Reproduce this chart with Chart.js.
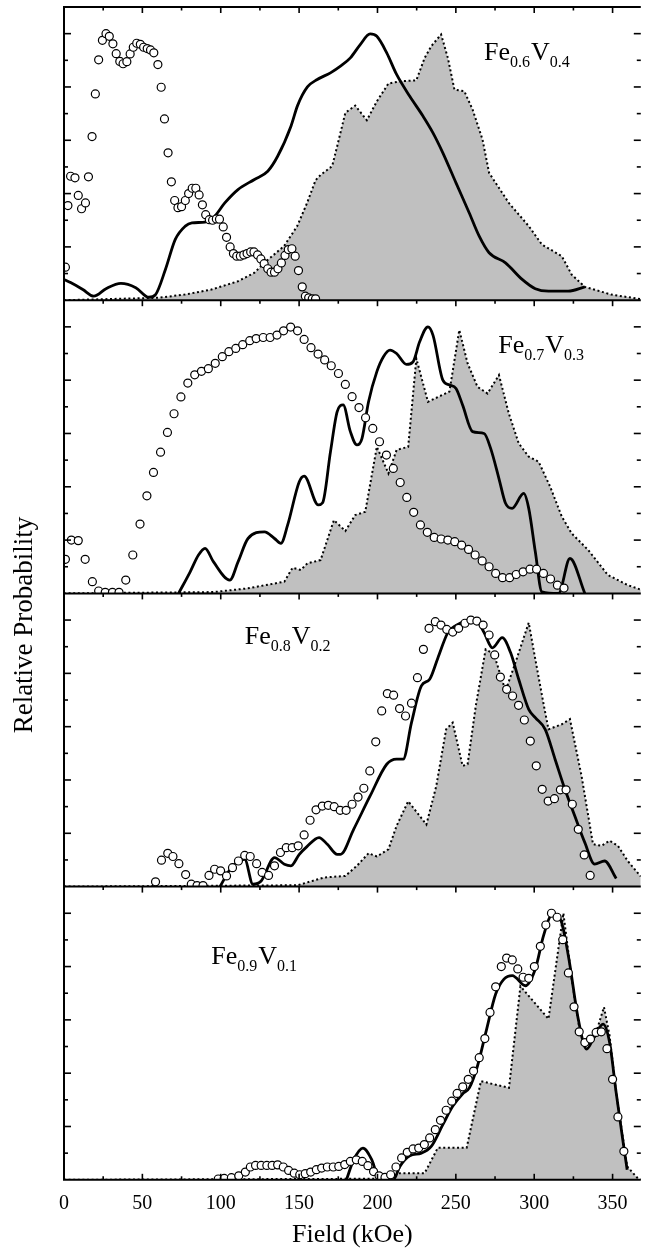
<!DOCTYPE html>
<html>
<head>
<meta charset="utf-8">
<script src="https://cdn.jsdelivr.net/npm/chart.js@4"></script>
<style>
  html, body { margin: 0; padding: 0; background: #fff; overflow: hidden; }
  #wrap { width: 646px; height: 1251px; position: relative; }
</style>
</head>
<body>
<div id="wrap"><canvas id="chart"></canvas></div>
<script>
// x axis ticks (kOe) and y tick marks (relative probability)
const xTickLabels = [0, 50, 100, 150, 200, 250, 300, 350];
const xMinorTicks = [25, 75, 125, 175, 225, 275, 325];
const yTickMarks = [0.1, 0.2, 0.3, 0.4, 0.5, 0.6, 0.7, 0.8, 0.9, 1.0];

// Fe0.6V0.4
const fe60Circles = [[0.9,0.124],[2.5,0.355],[4.2,0.465],[7,0.459],[9.1,0.393],[11.2,0.343],[13.7,0.365],[15.6,0.463],[17.9,0.614],[20,0.774],[22.1,0.902],[24.5,0.975],[26.8,1.0],[28.9,0.99],[31.2,0.962],[33.3,0.925],[35.6,0.896],[37.7,0.887],[40.1,0.895],[42.2,0.924],[44.2,0.949],[46.4,0.964],[48.7,0.96],[50.8,0.949],[53.1,0.944],[55.2,0.939],[57.3,0.928],[59.9,0.884],[62,0.799],[64.1,0.68],[66.4,0.553],[68.5,0.444],[70.6,0.374],[72.7,0.347],[75,0.351],[77.4,0.374],[79.5,0.4],[81.8,0.42],[84.1,0.42],[86.2,0.395],[88.3,0.358],[90.4,0.321],[92.7,0.302],[94.8,0.3],[97.2,0.305],[99.2,0.304],[101.6,0.275],[103.7,0.236],[106,0.2],[108.1,0.175],[110.2,0.165],[112.5,0.165],[114.7,0.17],[116.8,0.175],[119.1,0.181],[121.2,0.181],[123.5,0.17],[125.6,0.155],[127.7,0.137],[130,0.118],[132.1,0.105],[134.3,0.105],[136.5,0.118],[138.7,0.14],[141,0.168],[143.1,0.19],[145.4,0.193],[147.5,0.165],[149.6,0.111],[152,0.05],[154,0.015],[156.1,0.009],[158.4,0.005],[160.5,0.005]];
const fe60Line = [[0,0.078],[4.2,0.066],[12,0.04],[19,0.015],[26.8,0.043],[36.3,0.063],[45.8,0.047],[54.2,0.011],[58.4,0.021],[64.7,0.115],[71,0.228],[77.4,0.278],[81.6,0.29],[90,0.293],[95.2,0.309],[102.6,0.365],[111,0.415],[121.5,0.453],[130,0.484],[136.3,0.54],[144.8,0.653],[149,0.73],[155.3,0.8],[161.6,0.828],[170,0.853],[176.4,0.878],[182.7,0.909],[189,0.959],[195.3,0.999],[199.6,0.99],[205.9,0.928],[212.2,0.847],[220.6,0.765],[229.1,0.69],[235.4,0.628],[241.7,0.553],[250.1,0.44],[258.5,0.328],[264.9,0.24],[271.2,0.178],[281.7,0.14],[292.3,0.078],[300.7,0.043],[309.1,0.034],[321.7,0.034],[332.3,0.05]];
const fe60Area = [[0,0],[60,0.009],[77,0.021],[94,0.04],[111,0.071],[121.5,0.103],[127.8,0.14],[140.4,0.203],[148.8,0.278],[155.1,0.365],[160.5,0.45],[163.7,0.47],[171.1,0.503],[174.3,0.578],[179.5,0.703],[185.8,0.73],[193.2,0.675],[199.6,0.746],[207,0.813],[214.3,0.821],[224.8,0.825],[230.1,0.909],[234.3,0.953],[240.6,0.997],[244.9,0.909],[249.1,0.79],[255.4,0.784],[260.7,0.715],[267,0.603],[271.2,0.478],[275.4,0.44],[283.8,0.365],[296.5,0.278],[304.9,0.209],[317.6,0.165],[323.9,0.096],[332.3,0.05],[349.2,0.021],[368,0.004]];

// Fe0.7V0.3
const fe70Circles = [[0.9,0.128],[4.7,0.2],[9.1,0.198],[13.5,0.128],[18.1,0.044],[22.1,0.009],[26.3,0.004],[30.9,0.004],[35.1,0.004],[39.4,0.05],[43.9,0.144],[48.5,0.26],[52.9,0.366],[57.1,0.454],[61.6,0.53],[66,0.604],[70.2,0.674],[74.6,0.737],[79,0.789],[83.4,0.82],[87.7,0.833],[92.1,0.843],[96.5,0.863],[101,0.888],[105.2,0.907],[109.6,0.919],[114,0.933],[118.5,0.948],[122.6,0.956],[127.1,0.96],[131.5,0.96],[135.9,0.969],[140.1,0.985],[144.6,0.999],[149,0.985],[153.2,0.953],[157.6,0.922],[162.1,0.898],[166.3,0.876],[170.5,0.854],[175.1,0.825],[179.5,0.784],[183.8,0.738],[188.2,0.697],[192.4,0.659],[197,0.619],[201.3,0.569],[205.7,0.519],[210.1,0.469],[214.5,0.416],[218.7,0.36],[223.1,0.304],[227.4,0.257],[231.8,0.229],[236.2,0.21],[240.6,0.204],[244.9,0.2],[249.3,0.194],[253.7,0.181],[258.1,0.165],[262.3,0.144],[266.8,0.122],[271.2,0.1],[275.4,0.075],[279.8,0.059],[284.3,0.059],[288.5,0.071],[292.9,0.081],[297.3,0.091],[301.5,0.091],[305.9,0.075],[310.4,0.054],[314.8,0.031],[319,0.02]];
const fe70Line = [[73.1,0],[80.5,0.081],[85.8,0.144],[90,0.169],[95.3,0.119],[105.8,0.05],[111.1,0.119],[117.4,0.206],[127.9,0.231],[134.3,0.206],[138.4,0.188],[142.7,0.257],[150.1,0.419],[153.2,0.44],[162.2,0.332],[165,0.34],[170,0.531],[174.3,0.682],[178.1,0.707],[182.7,0.607],[186.9,0.557],[190.1,0.581],[194.3,0.719],[199.6,0.832],[203.8,0.888],[208,0.913],[212.2,0.9],[218.5,0.859],[222.7,0.869],[226.9,0.944],[232.2,1.0],[235.4,0.969],[241.7,0.8],[245.9,0.782],[250.1,0.769],[254.3,0.707],[260.7,0.607],[268,0.6],[272.2,0.544],[277.5,0.431],[281.7,0.338],[285.9,0.319],[293.3,0.375],[296.5,0.319],[300.7,0.156],[304.9,0.006],[315.5,0],[322.8,0.131],[332.3,0]];
const fe70Area = [[0,0],[95.5,0.005],[117.4,0.019],[140.6,0.044],[145.8,0.096],[151.1,0.088],[155.3,0.113],[163.7,0.125],[172.2,0.275],[179.5,0.234],[185.8,0.294],[192.2,0.306],[199.6,0.55],[207,0.45],[212.2,0.538],[219.6,0.55],[224.8,0.881],[232.2,0.719],[245.9,0.757],[252.2,0.988],[257.5,0.863],[263.8,0.775],[270.2,0.75],[277.5,0.819],[283.8,0.675],[290.1,0.563],[296.5,0.513],[302.8,0.494],[310.2,0.4],[317.6,0.288],[323.9,0.225],[334.4,0.163],[347,0.069],[359.7,0.031],[368,0.014]];

// Fe0.8V0.2
const fe80Circles = [[58.4,0.018],[62.2,0.099],[66.2,0.125],[69.5,0.113],[73.3,0.086],[77.6,0.045],[81.2,0.009],[84.9,0.004],[88.7,0.004],[92.5,0.042],[96.1,0.065],[99.9,0.059],[103.7,0.04],[107.5,0.071],[111.3,0.096],[115.3,0.117],[118.8,0.113],[122.9,0.086],[126.4,0.053],[130.5,0.042],[134.3,0.078],[138.1,0.128],[141.8,0.146],[145.6,0.146],[149.4,0.153],[153.2,0.194],[157,0.249],[160.8,0.288],[164.8,0.302],[168.6,0.305],[172.4,0.3],[176.2,0.286],[180,0.286],[183.8,0.309],[187.6,0.336],[191.3,0.369],[195.1,0.434],[198.9,0.543],[202.7,0.659],[206.3,0.724],[210.3,0.718],[214.1,0.668],[217.9,0.64],[221.7,0.688],[225.5,0.784],[229.3,0.89],[232.9,0.969],[236.9,0.994],[240.5,0.981],[244.2,0.965],[248,0.955],[251.8,0.969],[255.8,0.988],[259.6,1.0],[263.4,0.996],[267.4,0.981],[271.2,0.944],[274.8,0.869],[278.4,0.786],[282.4,0.74],[286.2,0.715],[290,0.68],[293.7,0.625],[297.5,0.546],[301.3,0.453],[305.1,0.365],[308.9,0.321],[312.9,0.33],[316.7,0.363],[320.3,0.363],[324.3,0.309],[328.1,0.215],[331.9,0.119],[335.7,0.042]];
const fe80Line = [[99.5,0],[106.8,0.071],[115.3,0.102],[120.5,0.009],[125.8,0.021],[134.3,0.109],[140.6,0.084],[144.8,0.078],[150,0.12],[155,0.15],[162.7,0.184],[168,0.159],[174.3,0.121],[176.4,0.121],[184.8,0.215],[195.3,0.34],[205.9,0.459],[212.2,0.478],[216.4,0.478],[221.7,0.615],[228,0.753],[233.3,0.778],[238.6,0.859],[244.9,0.953],[250.1,0.98],[256.4,0.996],[262.7,1.0],[268,0.953],[273.3,0.896],[279.6,0.934],[284.9,0.878],[290.1,0.778],[296.5,0.665],[300.7,0.634],[307,0.59],[313.3,0.478],[319.6,0.365],[325.9,0.265],[332.3,0.165],[338.6,0.084],[344.9,0.096],[352.3,0.03]];
const fe80Area = [[0,0],[149,0.005],[165.9,0.034],[179.5,0.04],[186.9,0.078],[194.3,0.125],[199.6,0.113],[207,0.14],[212.2,0.228],[219.6,0.32],[231.2,0.233],[237.5,0.377],[243.8,0.59],[248,0.615],[254.3,0.453],[257.5,0.459],[262.7,0.677],[269,0.89],[274.3,0.872],[281.7,0.734],[288,0.84],[296.5,0.99],[300.7,0.853],[306,0.684],[309.1,0.59],[317.6,0.609],[322.8,0.628],[330.2,0.415],[337.5,0.159],[342.9,0.153],[348.1,0.172],[353.4,0.153],[359.7,0.096],[368,0.038]];

// Fe0.9V0.1
const fe90Circles = [[98.4,0.003],[102.2,0.005],[106.8,0.008],[111.5,0.015],[115.7,0.029],[118.9,0.048],[122.2,0.054],[125.8,0.054],[129.4,0.054],[132.8,0.054],[136.3,0.056],[139.9,0.048],[143.3,0.035],[146.9,0.025],[150.4,0.019],[153.9,0.023],[157.4,0.029],[161,0.038],[164.4,0.044],[168,0.048],[171.8,0.048],[175.3,0.05],[179.1,0.057],[182.7,0.069],[186.5,0.075],[190.3,0.069],[193.9,0.053],[197.5,0.031],[201,0.015],[204.8,0.009],[208.4,0.019],[211.8,0.048],[215.4,0.082],[219,0.103],[222.7,0.116],[226.3,0.119],[229.9,0.132],[233.3,0.157],[236.9,0.188],[240.2,0.223],[243.8,0.261],[247.4,0.295],[250.8,0.324],[254.4,0.349],[257.9,0.377],[261.3,0.408],[264.9,0.458],[268.5,0.53],[271.8,0.628],[275.4,0.724],[279,0.8],[282.4,0.832],[286,0.825],[289.5,0.791],[292.9,0.76],[296.5,0.756],[300.1,0.8],[303.9,0.876],[307.4,0.956],[311,1.0],[314.6,0.985],[318.2,0.901],[321.8,0.776],[325.4,0.649],[328.7,0.555],[332.3,0.515],[335.9,0.528],[339.5,0.553],[342.8,0.555],[346.4,0.492],[350,0.377],[353.4,0.236],[357.2,0.107]];
const fe90Line = [[180.2,0],[184.8,0.075],[190.7,0.119],[196.4,0.075],[201.3,0],[210.1,0],[214.3,0.05],[220.6,0.09],[228,0.1],[234.3,0.125],[241.7,0.207],[248,0.276],[254.4,0.323],[258.6,0.345],[263.8,0.427],[269.1,0.552],[275.4,0.697],[280.7,0.753],[286,0.766],[294.4,0.728],[300.7,0.791],[306,0.917],[311.2,0.992],[316.5,0.979],[321.8,0.84],[328.1,0.603],[333.4,0.49],[338.6,0.54],[343.9,0.584],[348.1,0.515],[352.3,0.326],[356.5,0.15],[359.3,0.038]];
const fe90Area = [[0,0],[201.7,0.004],[211.2,0.015],[214.3,0.025],[230.1,0.025],[238.5,0.12],[256.9,0.12],[266,0.37],[283.9,0.345],[291.2,0.726],[309.1,0.604],[318.6,1.0],[323.9,0.755],[329.2,0.553],[333.4,0.49],[338.6,0.535],[344.5,0.648],[348.1,0.54],[352.3,0.326],[359.3,0.05],[366,0.006],[368,0]];

// panel labels: subscripts and where the label sits (kOe, relative probability)
const panelNames = [['0.6', '0.4'], ['0.7', '0.3'], ['0.8', '0.2'], ['0.9', '0.1']];
const panelLabelAt = [[268, 0.9], [277, 0.903], [115.3, 0.911], [94, 0.81]];

const panels = [
  {id: 'yA', circles: fe60Circles, line: fe60Line, area: fe60Area},
  {id: 'yB', circles: fe70Circles, line: fe70Line, area: fe70Area},
  {id: 'yC', circles: fe80Circles, line: fe80Line, area: fe80Area},
  {id: 'yD', circles: fe90Circles, line: fe90Line, area: fe90Area}
];

const SERIF = "'Liberation Serif', 'Times New Roman', serif";
const pts = arr => arr.map(([x, y]) => ({x, y}));

const datasets = [];
panels.forEach(p => {
  datasets.push({
    data: pts(p.circles), yAxisID: p.id, showLine: false, order: 1, clip: 0,
    pointRadius: 4, pointBorderWidth: 1.2, pointBorderColor: '#000', pointBackgroundColor: '#fff'
  });
  datasets.push({
    data: pts(p.line), yAxisID: p.id, order: 2, clip: 0,
    borderColor: '#000', borderWidth: 2.8, pointRadius: 0, cubicInterpolationMode: 'monotone', fill: false
  });
  datasets.push({
    data: pts(p.area), yAxisID: p.id, order: 3, clip: 0,
    borderColor: '#000', borderWidth: 2, borderDash: [2, 2.6], pointRadius: 0, tension: 0,
    backgroundColor: '#c0c0c0', fill: 'origin'
  });
});

// y scales: bottom panel defined first so it is stacked lowest
const scales = {
  x: {
    type: 'linear', min: 0, max: 368, position: 'bottom',
    grid: {display: false, drawTicks: false}, border: {display: false},
    afterBuildTicks: s => { s.ticks = xTickLabels.map(v => ({value: v})); },
    afterFit: s => { s.paddingLeft = 0; s.paddingRight = 0; },
    ticks: {autoSkip: false, maxRotation: 0, padding: 12, color: '#000', font: {family: SERIF, size: 20}},
    title: {display: true, text: 'Field (kOe)', color: '#000', font: {family: SERIF, size: 26}, padding: {top: -8, bottom: 0}}
  }
};
[...panels].reverse().forEach(p => {
  scales[p.id] = {type: 'linear', min: 0, max: 1.1, position: 'left', stack: 'panels', stackWeight: 1, display: false};
});

const framePlugin = {
  id: 'frame',
  afterDatasetsDraw(chart) {
    const {ctx, chartArea: a} = chart;
    const x = chart.scales.x;
    const seg = (x1, y1, x2, y2) => { ctx.beginPath(); ctx.moveTo(x1, y1); ctx.lineTo(x2, y2); ctx.stroke(); };
    ctx.save();
    ctx.strokeStyle = '#000';
    ctx.fillStyle = '#000';
    ctx.lineWidth = 2;
    seg(a.left, a.top, a.left, a.bottom);
    seg(a.left - 1, a.bottom, a.right, a.bottom);
    panels.forEach((p, i) => {
      const s = chart.scales[p.id];
      ctx.lineWidth = 2;
      seg(a.left - 1, s.top, a.right, s.top);
      ctx.lineWidth = 1.6;
      xTickLabels.forEach(v => { const px = x.getPixelForValue(v); seg(px, s.top, px, s.top + 6); });
      xMinorTicks.forEach(v => { const px = x.getPixelForValue(v); seg(px, s.top, px, s.top + 3.5); });
      yTickMarks.forEach((v, k) => {
        const py = s.getPixelForValue(v);
        const len = k % 2 === 1 ? 7 : 4;
        seg(a.left, py, a.left + len, py);
        seg(a.right, py, a.right - len, py);
      });
      // panel label Fe_x V_y
      const [sub1, sub2] = panelNames[i];
      let lx = x.getPixelForValue(panelLabelAt[i][0]);
      const ly = s.getPixelForValue(panelLabelAt[i][1]);
      ctx.textBaseline = 'alphabetic';
      ctx.textAlign = 'left';
      const big = `26px ${SERIF}`, small = `16px ${SERIF}`;
      [['Fe', big, 0], [sub1, small, 7], ['V', big, 0], [sub2, small, 7]].forEach(([t, f, dy]) => {
        ctx.font = f;
        ctx.fillText(t, lx, ly + dy);
        lx += ctx.measureText(t).width + (f === small ? 1 : 0);
      });
    });
    ctx.lineWidth = 1.6;
    xTickLabels.forEach(v => { const px = x.getPixelForValue(v); seg(px, a.bottom, px, a.bottom - 6); });
    xMinorTicks.forEach(v => { const px = x.getPixelForValue(v); seg(px, a.bottom, px, a.bottom - 3.5); });
    // y axis title
    ctx.translate(32, 625);
    ctx.rotate(-Math.PI / 2);
    ctx.textAlign = 'center';
    ctx.textBaseline = 'alphabetic';
    ctx.font = `27px ${SERIF}`;
    ctx.fillText('Relative Probability', 0, 0);
    ctx.restore();
  }
};

new Chart(document.getElementById('chart'), {
  type: 'line',
  data: {datasets},
  options: {
    responsive: true,
    maintainAspectRatio: false,
    animation: false,
    layout: {padding: {left: 64, top: 7, right: 0, bottom: 0}},
    plugins: {legend: {display: false}, tooltip: {enabled: false}},
    scales
  },
  plugins: [framePlugin]
});
</script>
</body>
</html>
